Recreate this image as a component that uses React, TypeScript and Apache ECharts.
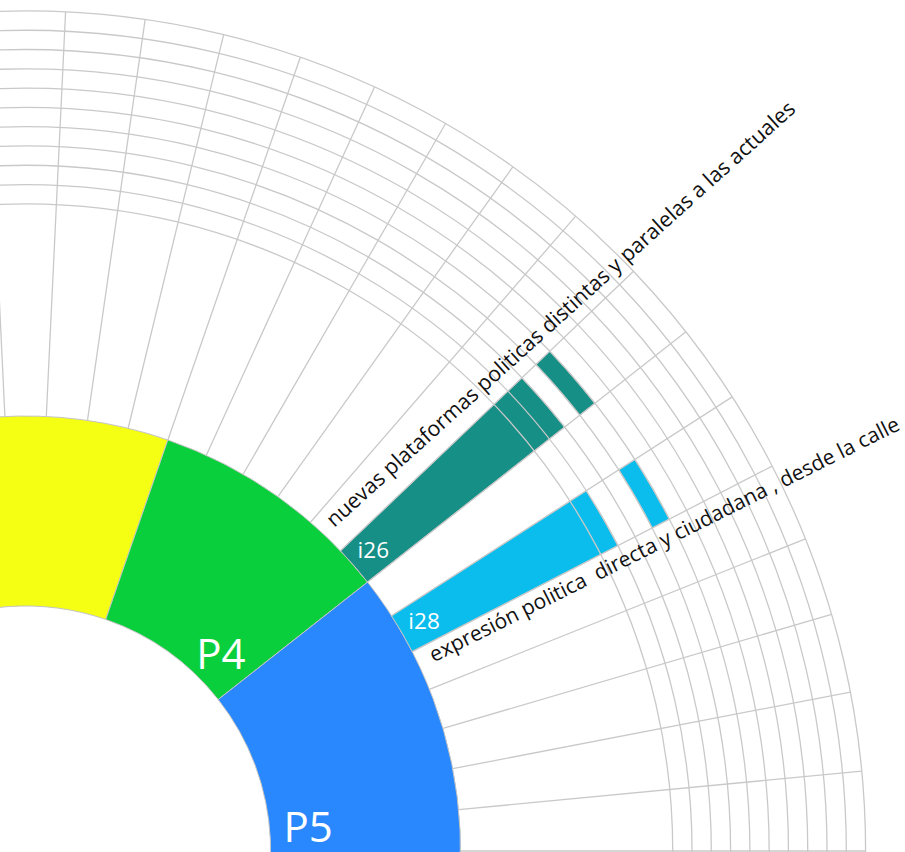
import React, { useEffect, useRef } from 'react';
import * as echarts from 'echarts';

// Angular categories around the full circle (one per indicator slot)
const SLICES = 66;

// Radial scale: grid levels 0..10 are the score circles; negative values are the inner band
const RADIUS_MIN = -11;
const RADIUS_MAX = 10;
const RING_IN = -20.85;
const RING_OUT = -11;

// Pillars (inner ring)
const pNames = ['P3', 'P4', 'P5'];
const pFrom = [13, 7, -6];
const pTo = [30, 13, 7];
const pColors = ['#f4ff14', '#0acf3c', '#2a88ff'];

// Indicators (outer bars)
const indicators = ['i26', 'i28'];
const indicatorSlice = [7, 5];
const indicatorScore = [2, 1];
const indicatorExtraFrom = [3, 3];
const indicatorExtraTo = [4, 4];
const indicatorText = [
  'nuevas plataformas politicas distintas y paralelas a las actuales',
  'expresión politica  directa y ciudadana , desde la calle',
];
const indicatorColors = ['#168f86', '#0bbdec'];

// Label layout (in axis units) — styling, not data
const P_LABEL_POS: Record<string, [number, number]> = { P4: [-19.11, 8.34], P5: [-18.85, 0.96] };
const I_LABEL_R = -9.7;
const LONG_LABEL_POS: [number, number, number, number][] = [
  [-10.35, 8.69, 42.05, 21.3],
  [-10.25, 4.73, 26.55, 21],
];

const FONT = '"Open Sans", "Noto Sans", sans-serif';
const GRID = '#c9c9c9';

function sector(params: any, api: any, r0: number, a0: number, r1: number, a1: number, fill: string) {
  const p0 = api.coord([r0, a0]);
  const p1 = api.coord([r1, a1]);
  return {
    type: 'sector',
    shape: {
      cx: params.coordSys.cx,
      cy: params.coordSys.cy,
      r0: p0[2],
      r: p1[2],
      startAngle: -p0[3],
      endAngle: -p1[3],
      clockwise: false,
    },
    style: { fill, stroke: '#c4c4c4', lineWidth: 1 },
  };
}

export default function App() {
  const ref = useRef<HTMLDivElement>(null);
  useEffect(() => {
    const chart = echarts.init(ref.current!, null, { renderer: 'svg' });

    const ringData = pNames.map((_, i) => [RING_IN, pFrom[i], RING_OUT, pTo[i], i]);

    const barData: number[][] = [];
    indicators.forEach((_, i) => {
      const s = indicatorSlice[i];
      barData.push([RING_OUT, s, indicatorScore[i], s + 1, i]);
      barData.push([indicatorExtraFrom[i], s, indicatorExtraTo[i], s + 1, i]);
    });

    type Lbl = { text: string; size: number; color: string; rot: number; align: string };
    const labelMeta: Lbl[] = [];
    const labelData: number[][] = [];
    pNames.forEach((n) => {
      const pos = P_LABEL_POS[n];
      if (!pos) return;
      labelData.push([pos[0], pos[1]]);
      labelMeta.push({ text: n, size: 42, color: '#ffffff', rot: 0, align: 'center' });
    });
    indicators.forEach((n, i) => {
      labelData.push([I_LABEL_R, indicatorSlice[i] + 0.5]);
      labelMeta.push({ text: n, size: 22.5, color: '#ffffff', rot: 0, align: 'center' });
    });
    indicatorText.forEach((t, i) => {
      const pos = LONG_LABEL_POS[i];
      labelData.push([pos[0], pos[1]]);
      labelMeta.push({ text: t, size: pos[3], color: '#111111', rot: pos[2], align: 'left' });
    });

    const circleColors: string[] = [];
    for (let v = RADIUS_MIN; v <= RADIUS_MAX; v++) circleColors.push(v < 0 ? 'rgba(0,0,0,0)' : GRID);

    chart.setOption({
      animation: false,
      polar: { center: [25.6, 851], radius: [435, 840] },
      angleAxis: {
        type: 'value',
        min: 0,
        max: SLICES,
        interval: 1,
        startAngle: 0,
        clockwise: false,
        z: 5,
        axisLine: { show: false },
        axisTick: { show: false },
        axisLabel: { show: false },
        splitLine: { show: true, lineStyle: { color: GRID, width: 1.3 } },
      },
      radiusAxis: {
        type: 'value',
        min: RADIUS_MIN,
        max: RADIUS_MAX,
        interval: 1,
        z: 5,
        axisLine: { show: false },
        axisTick: { show: false },
        axisLabel: { show: false },
        splitLine: { show: true, lineStyle: { color: circleColors, width: 1.3 } },
      },
      series: [
        {
          type: 'custom',
          coordinateSystem: 'polar',
          z: 1,
          silent: true,
          data: ringData,
          renderItem: (params: any, api: any) =>
            sector(params, api, api.value(0), api.value(1), api.value(2), api.value(3), pColors[api.value(4)]),
        },
        {
          type: 'custom',
          coordinateSystem: 'polar',
          z: 1,
          silent: true,
          data: barData,
          renderItem: (params: any, api: any) =>
            sector(params, api, api.value(0), api.value(1), api.value(2), api.value(3), indicatorColors[api.value(4)]),
        },
        {
          type: 'custom',
          coordinateSystem: 'polar',
          z: 10,
          silent: true,
          data: labelData,
          renderItem: (params: any, api: any) => {
            const m = labelMeta[params.dataIndex];
            const p = api.coord([api.value(0), api.value(1)]);
            return {
              type: 'text',
              x: p[0],
              y: p[1],
              rotation: (m.rot * Math.PI) / 180,
              style: {
                text: m.text,
                fill: m.color,
                fontSize: m.size,
                fontFamily: FONT,
                align: m.align,
                verticalAlign: 'middle',
              },
            };
          },
        },
      ],
    });
    return () => chart.dispose();
  }, []);
  return <div ref={ref} style={{ position: 'absolute', left: 0, top: 0, width: 905, height: 852 }} />;
}
